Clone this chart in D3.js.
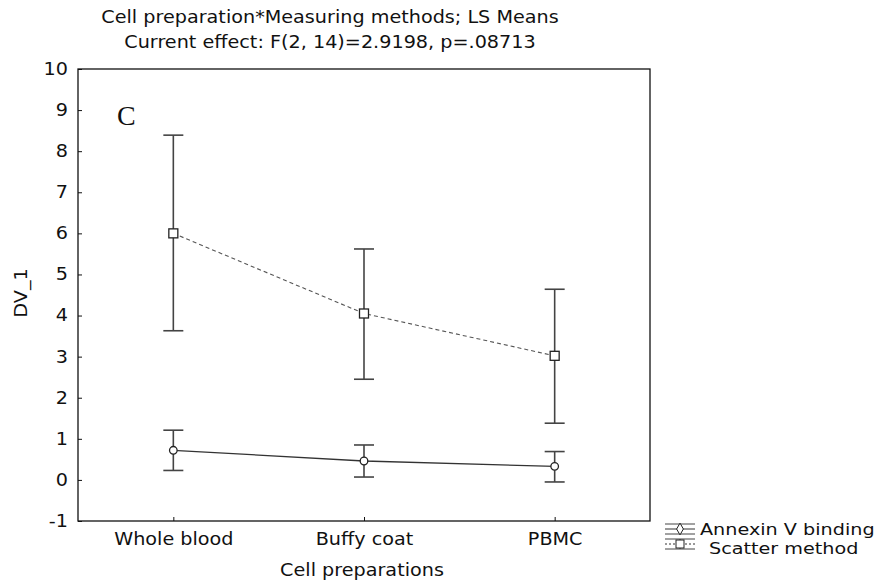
<!DOCTYPE html>
<html>
<head>
<meta charset="utf-8">
<script src="https://cdn.jsdelivr.net/npm/d3@7"></script>
<style>
  html, body { margin: 0; padding: 0; background: #fff; }
  svg { display: block; font-family: "DejaVu Sans", Verdana, sans-serif; }
</style>
</head>
<body>
<svg id="chart" width="883" height="583"></svg>
<script>
const categories = ["Whole blood", "Buffy coat", "PBMC"];
const annexinMean = [0.72, 0.46, 0.33];
const annexinLow  = [0.23, 0.07, -0.05];
const annexinHigh = [1.21, 0.85, 0.69];
const scatterMean = [6.0, 4.05, 3.02];
const scatterLow  = [3.63, 2.45, 1.38];
const scatterHigh = [8.39, 5.62, 4.64];
const yTicks = [-1, 0, 1, 2, 3, 4, 5, 6, 7, 8, 9, 10];
const titleLines = ["Cell preparation*Measuring methods; LS Means", "Current effect: F(2, 14)=2.9198, p=.08713"];
const seriesNames = ["Annexin V binding", "Scatter method"];

(function () {
const svg = d3.select("#chart");
const pLeft = 78, pRight = 650, pTop = 69, pBottom = 521;
const fs = 17, sx = 1.13;

const x = d3.scalePoint().domain(categories).range([pLeft, pRight]).padding(0.5);
const y = d3.scaleLinear().domain([-1, 10]).range([pBottom, pTop]);

const ink = "#111";
const barColor = "#444";

function label(px, py, txt, anchor, rotate, size, scx) {
  const g = svg.append("g").attr("transform", `translate(${px},${py})` + (rotate ? ` rotate(${rotate})` : ""));
  return g.append("text").attr("transform", `scale(${scx || sx},1)`).attr("text-anchor", anchor || "start")
    .attr("font-size", size || fs).attr("fill", ink).text(txt);
}

// title
titleLines.forEach((t, i) => label(330, 23 + i * 25, t, "middle"));

// frame
svg.append("rect").attr("x", pLeft).attr("y", pTop).attr("width", pRight - pLeft).attr("height", pBottom - pTop)
  .attr("fill", "none").attr("stroke", ink).attr("stroke-width", 1.3);

// y axis
const yAxis = d3.axisLeft(y).tickValues(yTicks).tickSizeInner(-4).tickSizeOuter(0).tickPadding(10).tickFormat(d3.format("d"));
const gy = svg.append("g").attr("transform", `translate(${pLeft},0)`).call(yAxis);
gy.select(".domain").remove();
gy.selectAll("line").attr("stroke", ink);
gy.selectAll("text").attr("font-size", fs).attr("fill", ink).attr("font-family", "DejaVu Sans")
  .attr("x", -10 / sx).attr("transform", `scale(${sx},1)`)
  .text(d => d < 0 ? "-" + Math.abs(d) : String(d));

// x axis
const xAxis = d3.axisBottom(x).tickSizeInner(-4).tickSizeOuter(0).tickPadding(12);
const gx = svg.append("g").attr("transform", `translate(0,${pBottom})`).call(xAxis);
gx.select(".domain").remove();
gx.selectAll("line").attr("stroke", ink);
gx.selectAll("text").attr("font-size", fs).attr("fill", ink).attr("font-family", "DejaVu Sans")
  .attr("transform", `scale(${sx},1)`);

// axis titles
label(362, 576, "Cell preparations", "middle");
label(27, 293, "DV_1", "middle", -90);

// panel letter
svg.append("text").attr("x", 117).attr("y", 125).attr("font-family", "Liberation Serif, Times New Roman, serif")
  .attr("font-size", 28).attr("fill", ink).text("C");

const capW = 10;
function drawSeries(means, lows, highs, dashed, marker) {
  const g = svg.append("g");
  const pts = categories.map((c, i) => ({c, m: means[i], lo: lows[i], hi: highs[i]}));
  g.append("path").datum(pts)
    .attr("d", d3.line().x(d => x(d.c)).y(d => y(d.m)))
    .attr("fill", "none").attr("stroke", dashed ? "#555" : "#333").attr("stroke-width", dashed ? 1.1 : 1.3)
    .attr("stroke-dasharray", dashed ? "4,3" : null);
  const eb = g.selectAll("g.eb").data(pts).join("g").attr("class", "eb");
  eb.append("line").attr("x1", d => x(d.c)).attr("x2", d => x(d.c)).attr("y1", d => y(d.lo)).attr("y2", d => y(d.hi))
    .attr("stroke", barColor).attr("stroke-width", 1.6);
  eb.append("line").attr("x1", d => x(d.c) - capW).attr("x2", d => x(d.c) + capW).attr("y1", d => y(d.hi)).attr("y2", d => y(d.hi))
    .attr("stroke", barColor).attr("stroke-width", 1.6);
  eb.append("line").attr("x1", d => x(d.c) - capW).attr("x2", d => x(d.c) + capW).attr("y1", d => y(d.lo)).attr("y2", d => y(d.lo))
    .attr("stroke", barColor).attr("stroke-width", 1.6);
  if (marker === "square") {
    eb.append("rect").attr("x", d => x(d.c) - 4.5).attr("y", d => y(d.m) - 4.5).attr("width", 9).attr("height", 9)
      .attr("fill", "#fff").attr("stroke", "#222").attr("stroke-width", 1.3);
  } else {
    eb.append("circle").attr("cx", d => x(d.c)).attr("cy", d => y(d.m)).attr("r", 3.8)
      .attr("fill", "#fff").attr("stroke", "#222").attr("stroke-width", 1.3);
  }
}
drawSeries(scatterMean, scatterLow, scatterHigh, true, "square");
drawSeries(annexinMean, annexinLow, annexinHigh, false, "circle");

// legend
const lg = svg.append("g");
const lx0 = 665, lx1 = 695, lcx = 680;
const entries = [
  {name: seriesNames[0], yTop: 524, yMid: 529, yBot: 534, dashed: false, marker: "diamond", tx: 700, ty: 529},
  {name: seriesNames[1], yTop: 539, yMid: 544, yBot: 549, dashed: true, marker: "square", tx: 709, ty: 548}
];
entries.forEach(e => {
  lg.append("line").attr("x1", lx0).attr("x2", lx1).attr("y1", e.yTop).attr("y2", e.yTop).attr("stroke", barColor).attr("stroke-width", 1);
  lg.append("line").attr("x1", lx0).attr("x2", lx1).attr("y1", e.yBot).attr("y2", e.yBot).attr("stroke", barColor).attr("stroke-width", 1);
  lg.append("line").attr("x1", lcx).attr("x2", lcx).attr("y1", e.yTop).attr("y2", e.yBot).attr("stroke", barColor).attr("stroke-width", 1);
  lg.append("line").attr("x1", lx0).attr("x2", lx1).attr("y1", e.yMid).attr("y2", e.yMid).attr("stroke", "#333").attr("stroke-width", 1)
    .attr("stroke-dasharray", e.dashed ? "2,2" : null);
  if (e.marker === "square") {
    lg.append("rect").attr("x", lcx - 4).attr("y", e.yMid - 4).attr("width", 8).attr("height", 8)
      .attr("fill", "#fff").attr("stroke", "#222").attr("stroke-width", 1);
  } else {
    lg.append("path").attr("d", d3.symbol().type(d3.symbolDiamond).size(40)())
      .attr("transform", `translate(${lcx},${e.yMid})`).attr("fill", "#fff").attr("stroke", "#222").attr("stroke-width", 1);
  }
  label(e.tx, e.ty, e.name, "start", null, 16, 1.2).attr("dy", "0.35em");
});
})();
</script>
</body>
</html>
